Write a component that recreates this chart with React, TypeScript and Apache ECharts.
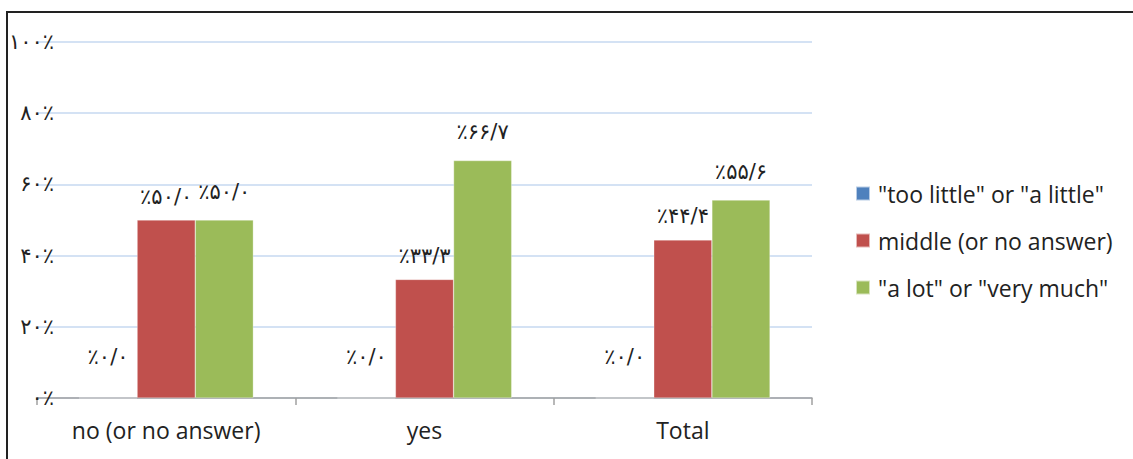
import React, { useEffect, useRef } from "react";
import * as echarts from "echarts";

const categories = ["no (or no answer)", "yes", "Total"];
const seriesNames = ['"too little" or "a little"', "middle (or no answer)", '"a lot" or "very much"'];
const tooLittle = [0.0, 0.0, 0.0];
const middle = [50.0, 33.3, 44.4];
const aLot = [50.0, 66.7, 55.6];
const yTickLabels = ["۰٪", "۲۰٪", "۴۰٪", "۶۰٪", "۸۰٪", "۱۰۰٪"];
const colors = ["#4f81bd", "#c0504d", "#9bbb59"];

const faDigits = "۰۱۲۳۴۵۶۷۸۹";
function toFa(s: string): string {
  return s.replace(/[0-9]/g, (d) => faDigits[Number(d)]);
}
function fmtLabel(v: number): string {
  return "٪" + toFa(v.toFixed(1).replace(".", "/"));
}

export default function App() {
  const ref = useRef<HTMLDivElement>(null);
  useEffect(() => {
    if (!ref.current) return;
    const chart = echarts.init(ref.current, null, { renderer: "svg" });
    const labelFont = { fontFamily: "DejaVu Sans", fontSize: 21, color: "#222" };
    const mk = (name: string, data: number[], color: string, dist: number) => ({
      name,
      type: "bar",
      data,
      barGap: "0%",
      barCategoryGap: "32.5%",
      itemStyle: { color, borderColor: "rgba(255,255,255,0.6)", borderWidth: 0.5 },
      label: {
        show: true,
        position: "top",
        distance: dist,
        formatter: (p: any) => fmtLabel(p.value),
        ...labelFont,
      },
    });
    chart.setOption({
      animation: false,
      backgroundColor: "#fff",
      grid: { left: 37, right: 321, top: 42, bottom: 61, containLabel: false },
      legend: {
        orient: "vertical",
        left: 850,
        top: 176,
        itemWidth: 14,
        itemHeight: 14,
        itemGap: 22,
        icon: "rect",
        textStyle: { fontFamily: "Open Sans", fontSize: 23, lineHeight: 25, color: "#222", padding: [0, 0, 0, 3] },
        data: seriesNames,
      },
      xAxis: {
        type: "category",
        data: categories,
        axisLine: { lineStyle: { color: "#a0a0a0", width: 1.5 } },
        axisTick: { show: true, length: 7, lineStyle: { color: "#a0a0a0", width: 1.5 } },
        axisLabel: { fontFamily: "Open Sans", fontSize: 23, color: "#222", margin: 20 },
      },
      yAxis: {
        type: "value",
        min: 0,
        max: 100,
        interval: 20,
        axisLine: { show: false },
        axisTick: { show: false },
        splitLine: { lineStyle: { color: "#c6d9f1", width: 1.5 } },
        axisLabel: {
          margin: -17,
          fontFamily: "DejaVu Sans",
          fontSize: 21,
          color: "#222",
          formatter: (v: number) => yTickLabels[Math.round(v / 20)],
        },
      },
      graphic: [
        { type: "line", shape: { x1: 7, y1: 12, x2: 7, y2: 459 }, style: { stroke: "#222", lineWidth: 2 } },
        { type: "line", shape: { x1: 6, y1: 12, x2: 1133, y2: 12 }, style: { stroke: "#222", lineWidth: 2 } },
      ],
      series: [
        mk(seriesNames[0], tooLittle, colors[0], 30),
        mk(seriesNames[1], middle, colors[1], 13),
        mk(seriesNames[2], aLot, colors[2], 18),
      ],
    });
    return () => chart.dispose();
  }, []);
  return <div ref={ref} style={{ position: "fixed", left: 0, top: 0, width: 1133, height: 459 }} />;
}
